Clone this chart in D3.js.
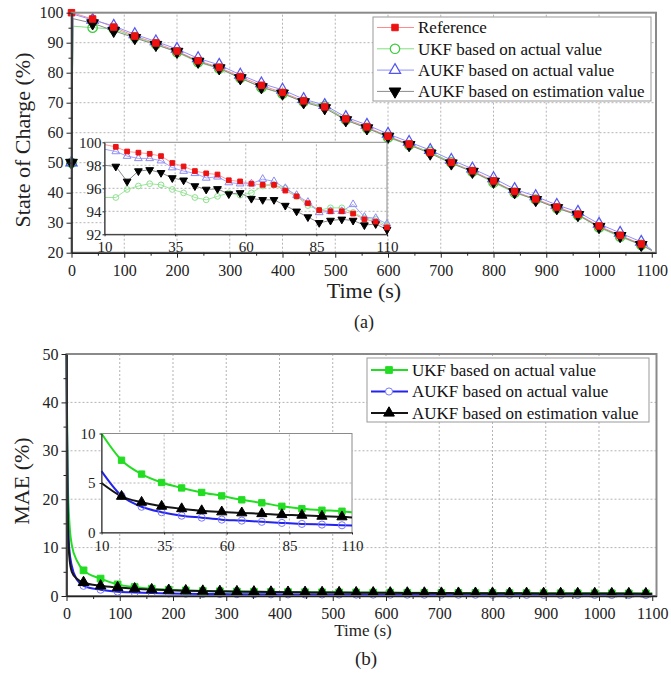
<!DOCTYPE html>
<html>
<head>
<meta charset="utf-8">
<style>
	body { margin: 0; background: #fff; }
	svg { display: block; }
	svg text { font-family: "Liberation Serif", "Times New Roman", serif !important; }
</style>
</head>
<body>
<svg id="chart" width="671" height="673"></svg>
<script src="https://cdn.jsdelivr.net/npm/d3@7/dist/d3.min.js"></script>
<script>
	// ---- (a) state of charge ----
	var socTime = [0, 3, 40, 80, 120, 160, 200, 240, 280, 320, 360, 400, 440, 480, 520, 560, 600, 640, 680, 720, 760, 800, 840, 880, 920, 960, 1000, 1040, 1080, 1100];
	var socRef  = [100, 99.9, 97.9, 95.2, 92.2, 89.9, 87.2, 84.0, 81.8, 78.6, 75.8, 73.4, 70.6, 68.6, 64.6, 61.9, 58.8, 56.2, 53.4, 50.1, 47.3, 43.9, 40.4, 37.9, 35.2, 32.8, 28.9, 25.8, 22.9, 20.8];
	var socUkf  = [50, 95.5, 95.0, 94.6, 91.9, 89.5, 86.8, 83.5, 81.4, 78.2, 75.1, 73.0, 70.3, 68.8, 64.3, 61.6, 58.4, 55.9, 53.6, 50.1, 47.0, 43.4, 40.0, 37.7, 34.8, 32.5, 28.4, 25.3, 22.6, 20.8];
	var socAukf = [50, 99.5, 97.6, 95.6, 92.8, 90.4, 87.9, 84.8, 82.6, 79.3, 76.4, 74.3, 71.2, 69.2, 65.2, 62.6, 59.6, 56.9, 54.2, 50.9, 48.0, 44.8, 41.2, 38.8, 35.9, 33.6, 29.6, 26.6, 23.6, 21.0];
	var socEst  = [50, 98.0, 96.5, 94.0, 91.6, 89.3, 87.0, 83.7, 81.5, 78.2, 75.2, 73.1, 70.2, 68.2, 64.2, 61.5, 58.7, 55.9, 53.1, 49.8, 47.0, 43.7, 40.2, 37.6, 34.9, 32.6, 28.6, 25.6, 22.6, 20.7];

	// zoomed window 10-110 s
	var insTime = [10, 14, 18, 22, 26, 30, 34, 38, 42, 46, 50, 54, 58, 62, 66, 70, 74, 78, 82, 86, 90, 94, 98, 102, 106, 110];
	var insRef  = [99.8, 99.6, 99.2, 99.1, 99.0, 98.8, 98.2, 97.9, 97.5, 97.3, 97.2, 96.7, 96.6, 96.4, 96.3, 96.3, 95.8, 95.3, 94.7, 94.1, 94.0, 94.0, 93.8, 93.3, 93.1, 92.6];
	var insUkf  = [95.2, 95.2, 95.9, 96.2, 96.4, 96.3, 95.9, 95.6, 95.2, 95.0, 95.3, 95.6, 95.4, 95.6, 96.2, 96.3, 96.0, 95.3, 94.5, 94.1, 94.3, 94.3, 93.9, 93.4, 93.3, 92.7];
	var insAukf = [99.4, 99.2, 98.8, 98.6, 98.6, 98.4, 97.8, 97.5, 97.3, 96.9, 97.0, 96.5, 96.4, 96.4, 96.8, 96.6, 96.0, 95.4, 94.8, 93.9, 94.0, 94.0, 94.6, 93.5, 93.4, 92.9];
	var insEst  = [98.0, 97.9, 96.6, 97.5, 97.6, 97.35, 96.9, 96.7, 96.2, 95.9, 95.95, 95.5, 95.6, 95.1, 95.0, 95.0, 94.5, 94.0, 93.5, 93.0, 93.2, 93.3, 93.2, 92.8, 92.9, 92.4];

	// ---- (b) MAE ----
	var maeTime = [0, 2, 5, 10, 20, 32, 64, 96, 128, 160, 192, 224, 256, 288, 320, 352, 384, 416, 448, 480, 512, 544, 576, 608, 640, 672, 704, 736, 768, 800, 832, 864, 896, 928, 960, 992, 1024, 1056, 1088, 1100];
	var maeUkf  = [50, 26, 16, 10.5, 7.2, 5.3, 3.6, 2.4, 1.85, 1.5, 1.3, 1.15, 1.05, 0.98, 0.93, 0.88, 0.84, 0.81, 0.78, 0.76, 0.74, 0.72, 0.70, 0.68, 0.67, 0.65, 0.64, 0.63, 0.62, 0.61, 0.60, 0.59, 0.58, 0.57, 0.56, 0.56, 0.55, 0.54, 0.54, 0.53];
	var maeAukf = [50, 20, 10, 6.2, 3.3, 2.1, 1.3, 0.9, 0.72, 0.6, 0.52, 0.47, 0.43, 0.40, 0.38, 0.36, 0.34, 0.33, 0.32, 0.31, 0.30, 0.29, 0.28, 0.27, 0.27, 0.26, 0.26, 0.25, 0.25, 0.24, 0.24, 0.23, 0.23, 0.22, 0.22, 0.22, 0.21, 0.21, 0.21, 0.20];
	var maeEst  = [50, 17, 8.5, 5.0, 3.5, 2.8, 2.1, 1.75, 1.5, 1.32, 1.2, 1.1, 1.02, 0.96, 0.91, 0.86, 0.82, 0.79, 0.76, 0.73, 0.71, 0.69, 0.67, 0.65, 0.63, 0.62, 0.60, 0.59, 0.58, 0.57, 0.56, 0.55, 0.54, 0.53, 0.52, 0.51, 0.50, 0.50, 0.49, 0.48];

	var maeInsTime = [10, 18, 26, 34, 42, 50, 58, 66, 74, 82, 90, 98, 106, 110];
	var maeInsUkf  = [10.0, 7.3, 5.9, 5.05, 4.5, 4.05, 3.7, 3.3, 3.0, 2.65, 2.4, 2.25, 2.15, 2.05];
	var maeInsAukf = [6.2, 3.7, 2.6, 2.05, 1.7, 1.5, 1.3, 1.2, 1.08, 0.97, 0.87, 0.8, 0.73, 0.7];
	var maeInsEst  = [5.0, 3.65, 3.05, 2.65, 2.4, 2.2, 2.08, 1.98, 1.9, 1.8, 1.74, 1.64, 1.58, 1.52];

	var legendA = ["Reference", "UKF based on actual value", "AUKF based on actual value", "AUKF based on estimation value"];
	var legendB = ["UKF based on actual value", "AUKF based on actual value", "AUKF based on estimation value"];

	var svg = d3.select("#chart");
	var serif = '"Liberation Serif", "Times New Roman", serif';

	function zip(t, v) { return t.map(function(d, i){ return [d, v[i]]; }); }

	function grid(g, xs, ys, xv, yv) {
		g.selectAll(null).data(xv).enter().append("line")
			.attr("x1", function(d){ return xs(d); }).attr("x2", function(d){ return xs(d); })
			.attr("y1", ys.range()[0]).attr("y2", ys.range()[1])
			.attr("stroke", "#b4b4b4").attr("stroke-width", 1).attr("stroke-dasharray", "2,2");
		g.selectAll(null).data(yv).enter().append("line")
			.attr("y1", function(d){ return ys(d); }).attr("y2", function(d){ return ys(d); })
			.attr("x1", xs.range()[0]).attr("x2", xs.range()[1])
			.attr("stroke", "#b4b4b4").attr("stroke-width", 1).attr("stroke-dasharray", "2,2");
	}

	function axes(g, xs, ys, o) {
		var x0 = xs.range()[0], y0 = ys.range()[0];
		var fmt = function(d){ return String(d); };
		var xa = g.append("g").attr("transform", "translate(0," + y0 + ")")
			.call(d3.axisBottom(xs).tickValues(o.xt).tickFormat(fmt).tickSize(o.tl).tickSizeOuter(0).tickPadding(o.xp));
		var ya = g.append("g").attr("transform", "translate(" + x0 + ",0)")
			.call(d3.axisLeft(ys).tickValues(o.yt).tickFormat(fmt).tickSize(o.tl).tickSizeOuter(0).tickPadding(o.yp));
		[xa, ya].forEach(function(a){
			a.attr("font-family", serif).attr("font-size", o.fs);
			a.select(".domain").attr("stroke", "#222").attr("stroke-width", o.sw);
			a.selectAll(".tick line").attr("stroke", "#222");
			a.selectAll(".tick text").attr("fill", "#222");
		});
		if (o.xm) {
			g.append("g").attr("transform", "translate(0," + y0 + ")")
				.call(d3.axisBottom(xs).tickValues(o.xm).tickSize(o.tl * 0.6).tickFormat(""))
				.call(function(a){ a.select(".domain").remove(); a.selectAll("line").attr("stroke", "#222"); });
			g.append("g").attr("transform", "translate(" + x0 + ",0)")
				.call(d3.axisLeft(ys).tickValues(o.ym).tickSize(o.tl * 0.6).tickFormat(""))
				.call(function(a){ a.select(".domain").remove(); a.selectAll("line").attr("stroke", "#222"); });
		}
	}

	function frame(g, xs, ys, col, w, fill) {
		g.append("rect")
			.attr("x", xs.range()[0]).attr("y", ys.range()[1])
			.attr("width", xs.range()[1] - xs.range()[0]).attr("height", ys.range()[0] - ys.range()[1])
			.attr("fill", fill || "none").attr("stroke", col).attr("stroke-width", w);
	}

	function curve(g, xs, ys, t, v, col, w, smooth) {
		var line = d3.line().x(function(d){ return xs(d[0]); }).y(function(d){ return ys(d[1]); });
		if (smooth) line.curve(d3.curveMonotoneX);
		g.append("path").datum(zip(t, v)).attr("d", line)
			.attr("fill", "none").attr("stroke", col).attr("stroke-width", w);
	}

	function marks(g, xs, ys, t, v, m, keep) {
		var pts = zip(t, v).filter(function(d, i){ return keep(d[0], i); });
		g.selectAll(null).data(pts).enter().append("path")
			.attr("d", d3.symbol().type(m.type).size(m.size))
			.attr("transform", function(d){ return "translate(" + xs(d[0]) + "," + ys(d[1]) + ")" + (m.rot ? " rotate(180)" : ""); })
			.attr("fill", m.fill).attr("stroke", m.stroke).attr("stroke-width", m.sw || 1);
	}

	function legend(g, box, names, lines, syms, ys0, dy) {
		g.append("rect").attr("x", box[0]).attr("y", box[1]).attr("width", box[2]).attr("height", box[3])
			.attr("fill", "#fff").attr("stroke", "#999").attr("stroke-width", 1);
		names.forEach(function(n, i){
			var y = ys0 + i * dy;
			g.append("line").attr("x1", box[0] + 4).attr("x2", box[0] + 41).attr("y1", y).attr("y2", y)
				.attr("stroke", lines[i].col).attr("stroke-width", lines[i].w);
			var m = syms[i];
			g.append("path").attr("d", d3.symbol().type(m.type).size(m.size))
				.attr("transform", "translate(" + (box[0] + 22) + "," + y + ")" + (m.rot ? " rotate(180)" : ""))
				.attr("fill", m.fill === "none" ? "#fff" : m.fill).attr("stroke", m.stroke).attr("stroke-width", m.sw || 1);
			g.append("text").attr("x", box[0] + 45).attr("y", y).attr("dy", "0.35em")
				.attr("font-size", 17).attr("fill", "#111").text(n);
		});
	}

	// ================= panel (a) =================
	var ga = svg.append("g");
	var xa = d3.scaleLinear().domain([0, 1108]).range([71.5, 656]);
	var ya = d3.scaleLinear().domain([20, 100]).range([252.7, 12.7]);

	grid(ga, xa, ya, [100,200,300,400,500,600,700,800,900,1000], [30,40,50,60,70,80,90]);

	var aLines = [
		{ col: "#ff8c8c", w: 1 },
		{ col: "#7fe07f", w: 1 },
		{ col: "#9090ff", w: 1 },
		{ col: "#8a8a8a", w: 1 }
	];
	var aSym = [
		{ type: d3.symbolSquare, size: 42, fill: "#ee1111", stroke: "#ee1111" },
		{ type: d3.symbolCircle, size: 70, fill: "none", stroke: "#3ccc3c", sw: 1.2 },
		{ type: d3.symbolTriangle, size: 55, fill: "none", stroke: "#5555ee", sw: 1.2 },
		{ type: d3.symbolTriangle, size: 60, fill: "#000", stroke: "#000", rot: true }
	];
	var aSets = [socRef, socUkf, socAukf, socEst];
	aSets.forEach(function(v, i){ curve(ga, xa, ya, socTime, v, aLines[i].col, 1, false); });
	var keepA = function(t){ return t !== 3 && t !== 1100; };
	[1, 2, 3, 0].forEach(function(i){ marks(ga, xa, ya, socTime, aSets[i], aSym[i], keepA); });

	frame(ga, xa, ya, "#8a8a8a", 2);
	axes(ga, xa, ya, {
		xt: d3.range(0, 1101, 100), yt: d3.range(20, 101, 10),
		xm: d3.range(50, 1100, 100), ym: d3.range(25, 100, 10),
		tl: 5, xp: 6.5, yp: 3, fs: 16, sw: 1.5
	});

	// inset (a)
	var xia = d3.scaleLinear().domain([10, 110]).range([104.5, 387]);
	var yia = d3.scaleLinear().domain([92, 100]).range([234.3, 142.3]);
	frame(ga, xia, yia, "#8a8a8a", 1, "#fff");
	grid(ga, xia, yia, [35, 60, 85], [94, 96, 98]);
	var iSym = [
		{ type: d3.symbolSquare, size: 22, fill: "#ee1111", stroke: "#ee1111" },
		{ type: d3.symbolCircle, size: 26, fill: "none", stroke: "#8ee08e", sw: 1 },
		{ type: d3.symbolTriangle, size: 26, fill: "none", stroke: "#8c8cf0", sw: 1 },
		{ type: d3.symbolTriangle, size: 26, fill: "#000", stroke: "#000", rot: true }
	];
	var iSets = [insRef, insUkf, insAukf, insEst];
	var iLineCol = ["#ff9c9c", "#9ae89a", "#a4a4ff", "#8a8a8a"];
	iSets.forEach(function(v, i){ curve(ga, xia, yia, insTime, v, iLineCol[i], 1, false); });
	var keepI = function(t, i){ return i > 0; };
	[1, 2, 3, 0].forEach(function(i){ marks(ga, xia, yia, insTime, iSets[i], iSym[i], keepI); });
	axes(ga, xia, yia, { xt: [10, 35, 60, 85, 110], yt: [92, 94, 96, 98, 100], tl: 2, xp: 5, yp: 1, fs: 15, sw: 1 });

	legend(ga, [373, 17, 278, 84], legendA, aLines, aSym, 27.5, 21.3);

	ga.append("text").attr("transform", "translate(30,140) rotate(-90)").attr("text-anchor", "middle")
		.attr("font-size", 22).attr("fill", "#222").text("State of Charge (%)");
	ga.append("text").attr("x", 364).attr("y", 298).attr("text-anchor", "middle")
		.attr("font-size", 22).attr("fill", "#222").text("Time (s)");
	ga.append("text").attr("x", 364).attr("y", 328).attr("text-anchor", "middle")
		.attr("font-size", 18).attr("fill", "#222").text("(a)");

	// ================= panel (b) =================
	var gb = svg.append("g");
	var xb = d3.scaleLinear().domain([0, 1108]).range([66.5, 656.5]);
	var yb = d3.scaleLinear().domain([0, 50]).range([596, 354]);

	grid(gb, xb, yb, [100,200,300,400,500,600,700,800,900,1000], [10,20,30,40]);

	var bLines = [
		{ col: "#22dd22", w: 2 },
		{ col: "#2323ee", w: 2 },
		{ col: "#151515", w: 2 }
	];
	var bSym = [
		{ type: d3.symbolSquare, size: 45, fill: "#22dd22", stroke: "#22dd22" },
		{ type: d3.symbolCircle, size: 40, fill: "none", stroke: "#7a7af5", sw: 1 },
		{ type: d3.symbolTriangle, size: 50, fill: "#000", stroke: "#000" }
	];
	var bSets = [maeUkf, maeAukf, maeEst];
	bSets.forEach(function(v, i){ curve(gb, xb, yb, maeTime, v, bLines[i].col, 2, true); });
	var keepB = function(t){ return t >= 32 && t <= 1088; };
	bSets.forEach(function(v, i){ marks(gb, xb, yb, maeTime, v, bSym[i], keepB); });

	frame(gb, xb, yb, "#8a8a8a", 2);
	axes(gb, xb, yb, {
		xt: d3.range(0, 1101, 100), yt: d3.range(0, 51, 10),
		xm: d3.range(50, 1100, 100), ym: d3.range(5, 50, 10),
		tl: 5, xp: 6.5, yp: 3, fs: 16, sw: 1.5
	});

	// inset (b)
	var xib = d3.scaleLinear().domain([10, 110]).range([101.5, 352]);
	var yib = d3.scaleLinear().domain([0, 10]).range([532.5, 433.5]);
	frame(gb, xib, yib, "#8a8a8a", 1, "#fff");
	grid(gb, xib, yib, [35, 60, 85], [5]);
	var ibSets = [maeInsUkf, maeInsAukf, maeInsEst];
	ibSets.forEach(function(v, i){ curve(gb, xib, yib, maeInsTime, v, bLines[i].col, 2, true); });
	var keepIB = function(t, i){ return i > 0 && t < 110; };
	var ibSym = [
		{ type: d3.symbolSquare, size: 40, fill: "#22dd22", stroke: "#22dd22" },
		{ type: d3.symbolCircle, size: 40, fill: "none", stroke: "#7a7af5", sw: 1 },
		{ type: d3.symbolTriangle, size: 45, fill: "#000", stroke: "#000" }
	];
	ibSets.forEach(function(v, i){ marks(gb, xib, yib, maeInsTime, v, ibSym[i], keepIB); });
	axes(gb, xib, yib, { xt: [10, 35, 60, 85, 110], yt: [0, 5, 10], tl: 2, xp: 6, yp: 4, fs: 15, sw: 1 });

	legend(gb, [367, 358, 282, 64], legendB, bLines, bSym, 370, 21.5);

	gb.append("text").attr("transform", "translate(29,481) rotate(-90)").attr("text-anchor", "middle")
		.attr("font-size", 22).attr("fill", "#222").text("MAE (%)");
	gb.append("text").attr("x", 363).attr("y", 636).attr("text-anchor", "middle")
		.attr("font-size", 17).attr("fill", "#222").text("Time (s)");
	gb.append("text").attr("x", 366).attr("y", 665).attr("text-anchor", "middle")
		.attr("font-size", 19).attr("fill", "#222").text("(b)");
</script>
</body>
</html>
